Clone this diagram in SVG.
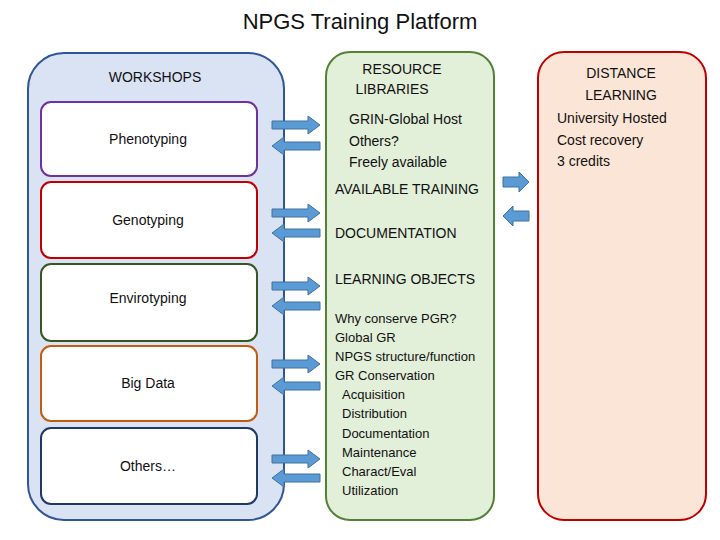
<svg xmlns="http://www.w3.org/2000/svg" width="720" height="540" viewBox="0 0 720 540">
<style>
text{font-family:"Liberation Sans",Arial,sans-serif;fill:#111}
.ws{fill:#fff;stroke-width:2}
.t{font-size:14px}
.s{font-size:13px}
.ar{fill:#5b9bd5;stroke:#41719c;stroke-width:1}
</style>
<defs>
<path id="ra" d="M0,-4 H36 V-9 L48,0 L36,9 V4 H0 Z"/>
<path id="la" d="M48,-4 H12 V-9 L0,0 L12,9 V4 H48 Z"/>
<path id="rb" d="M0,-5 H16 V-10 L26,0 L16,10 V5 H0 Z"/>
<path id="lb" d="M26,-5 H10 V-10 L0,0 L10,10 V5 H26 Z"/>
</defs>
<rect width="720" height="540" fill="#fff"/>
<text x="360" y="29" font-size="22" text-anchor="middle">NPGS Training Platform</text>
<g id="workshops">
<rect x="28" y="53" width="256" height="467" rx="36" fill="#dae3f3" stroke="#2f5597" stroke-width="2"/>
<text x="155" y="82" class="t" text-anchor="middle">WORKSHOPS</text>
</g>
<g id="phenotyping"><rect class="ws" x="41" y="102" width="216" height="74" rx="10" stroke="#7030a0"/><text x="148" y="144" class="t" text-anchor="middle">Phenotyping</text></g>
<g id="genotyping"><rect class="ws" x="41" y="182" width="216" height="76" rx="10" stroke="#c00000"/><text x="148" y="225" class="t" text-anchor="middle">Genotyping</text></g>
<g id="envirotyping"><rect class="ws" x="41" y="264" width="216" height="77" rx="10" stroke="#375623"/><text x="148" y="303" class="t" text-anchor="middle">Envirotyping</text></g>
<g id="bigdata"><rect class="ws" x="41" y="346" width="216" height="75" rx="10" stroke="#c55a11"/><text x="148" y="388" class="t" text-anchor="middle">Big Data</text></g>
<g id="others"><rect class="ws" x="41" y="428" width="216" height="76" rx="10" stroke="#1f3864"/><text x="148" y="471" class="t" text-anchor="middle">Others…</text></g>
<g id="resource">
<rect x="326" y="52" width="168" height="468" rx="24" fill="#e2efd9" stroke="#548235" stroke-width="2"/>
<text x="402" y="74" class="t" text-anchor="middle">RESOURCE</text>
<text x="392" y="94" class="t" text-anchor="middle">LIBRARIES</text>
<text x="349" y="124" class="t">GRIN-Global Host</text>
<text x="349" y="146" class="t">Others?</text>
<text x="349" y="167" class="t">Freely available</text>
<text x="335" y="194" class="t">AVAILABLE TRAINING</text>
<text x="335" y="238" class="t">DOCUMENTATION</text>
<text x="335" y="284" class="t">LEARNING OBJECTS</text>
<text x="335" y="323" class="s">Why conserve PGR?</text>
<text x="335" y="342" class="s">Global GR</text>
<text x="335" y="361" class="s">NPGS structure/function</text>
<text x="335" y="380" class="s">GR Conservation</text>
<text x="342" y="399" class="s">Acquisition</text>
<text x="342" y="418" class="s">Distribution</text>
<text x="342" y="438" class="s">Documentation</text>
<text x="342" y="457" class="s">Maintenance</text>
<text x="342" y="476" class="s">Charact/Eval</text>
<text x="342" y="495" class="s">Utilization</text>
</g>
<g id="distance">
<rect x="538" y="52" width="168" height="468" rx="26" fill="#fbe5d6" stroke="#c00000" stroke-width="2"/>
<text x="621" y="78" class="t" text-anchor="middle">DISTANCE</text>
<text x="621" y="100" class="t" text-anchor="middle">LEARNING</text>
<text x="557" y="123" class="t">University Hosted</text>
<text x="557" y="145" class="t">Cost recovery</text>
<text x="557" y="166" class="t">3 credits</text>
</g>
<g id="connectors">
<use href="#ra" class="ar" x="272" y="125"/><use href="#la" class="ar" x="272" y="146"/>
<use href="#ra" class="ar" x="272" y="213"/><use href="#la" class="ar" x="272" y="233"/>
<use href="#ra" class="ar" x="272" y="286"/><use href="#la" class="ar" x="272" y="306"/>
<use href="#ra" class="ar" x="272" y="364"/><use href="#la" class="ar" x="272" y="386"/>
<use href="#ra" class="ar" x="272" y="459"/><use href="#la" class="ar" x="272" y="478"/>
<use href="#rb" class="ar" x="503" y="182"/><use href="#lb" class="ar" x="503" y="216"/>
</g>
</svg>
